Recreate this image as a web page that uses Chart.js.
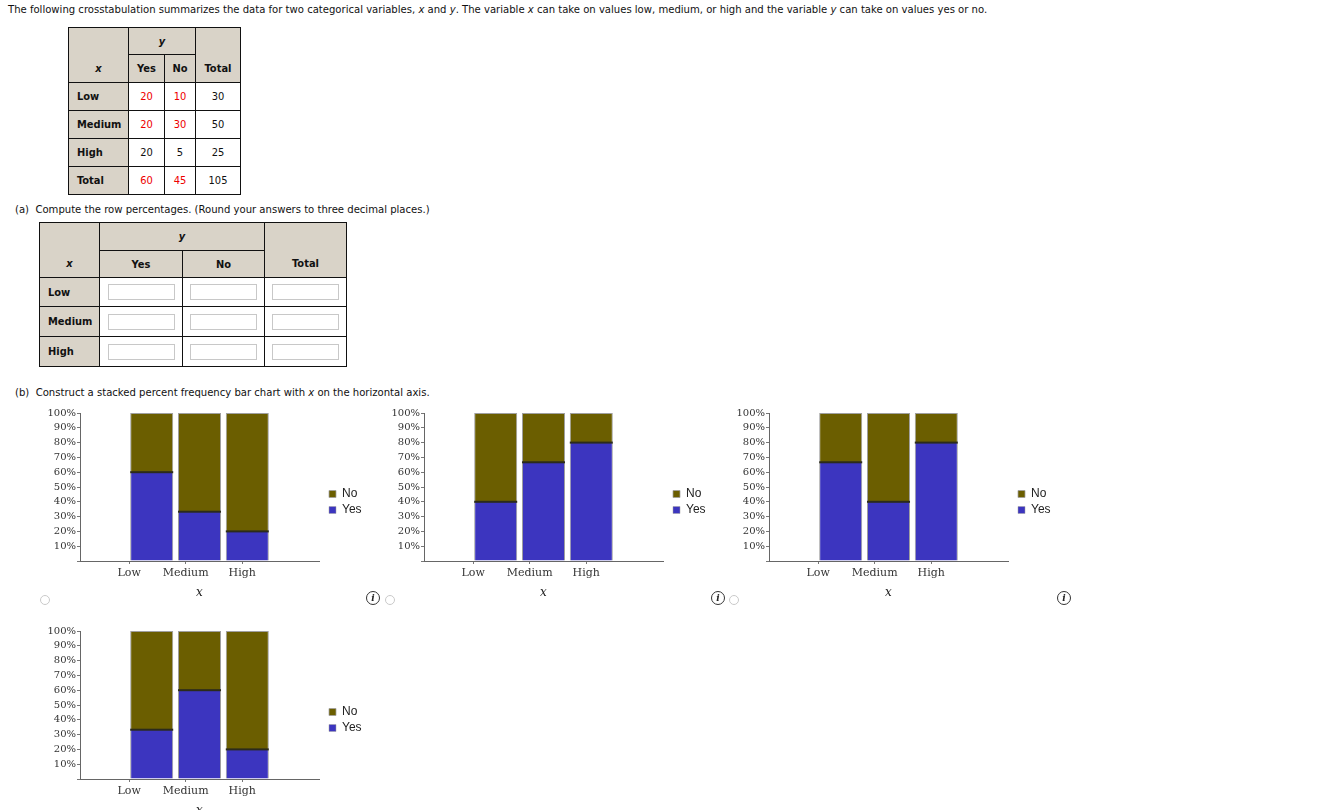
<!DOCTYPE html>
<html>
<head>
<meta charset="utf-8">
<script src="https://cdn.jsdelivr.net/npm/chart.js@4.4.1/dist/chart.umd.min.js"></script>
<style>
  body {
    margin: 0;
    width: 1337px;
    height: 810px;
    overflow: hidden;
    background: #fff;
    font-family: "DejaVu Sans Condensed", "DejaVu Sans", sans-serif;
    font-size: 11px;
    color: #111;
    position: relative;
  }
  .txt { position: absolute; white-space: nowrap; font-size: 11.2px; }
  table.ct {
    position: absolute;
    border-collapse: collapse;
    table-layout: fixed;
    font-size: 11px;
  }
  table.ct td {
    border: 1px solid #111;
    text-align: center;
    padding: 0;
  }
  table.ct td.hd { background: #d9d3c8; font-weight: bold; }
  table.ct td.rl { background: #d9d3c8; font-weight: bold; text-align: left; padding-left: 8px; }
  table.ct td.bt { vertical-align: bottom; padding-bottom: 7px; }
  .red { color: #ee0000; }
  .box {
    display: block;
    margin: 0 auto;
    width: 65px;
    height: 14px;
    border: 1px solid #c8c8c8;
    background: #fff;
  }
  .chartBox { position: absolute; width: 345px; height: 205px; }
  .radio {
    position: absolute;
    width: 8px; height: 8px;
    border: 1px solid #c9c9c9;
    border-radius: 50%;
  }
  .info {
    position: absolute;
    width: 12px; height: 12px;
    border: 1px solid #333;
    border-radius: 50%;
    font: italic bold 9px "DejaVu Serif", serif;
    text-align: center;
    line-height: 12px;
    color: #222;
  }
</style>
</head>
<body>

<div class="txt" style="left:8px; top:3px;">The following crosstabulation summarizes the data for two categorical variables, <i>x</i> and <i>y</i>. The variable <i>x</i> can take on values low, medium, or high and the variable <i>y</i> can take on values yes or no.</div>

<table class="ct" style="left:68px; top:27px; width:173px;">
  <colgroup><col style="width:60px"><col style="width:36px"><col style="width:31px"><col style="width:45px"></colgroup>
  <tr style="height:27px"><td class="hd bt" rowspan="2"><i>x</i></td><td class="hd" colspan="2"><i>y</i></td><td class="hd bt" rowspan="2">Total</td></tr>
  <tr style="height:28px"><td class="hd">Yes</td><td class="hd">No</td></tr>
  <tr style="height:28px"><td class="rl">Low</td><td class="red">20</td><td class="red">10</td><td>30</td></tr>
  <tr style="height:28px"><td class="rl">Medium</td><td class="red">20</td><td class="red">30</td><td>50</td></tr>
  <tr style="height:28px"><td class="rl">High</td><td>20</td><td>5</td><td>25</td></tr>
  <tr style="height:28px"><td class="rl">Total</td><td class="red">60</td><td class="red">45</td><td>105</td></tr>
</table>

<div class="txt" style="left:15px; top:203px;">(a)&nbsp; Compute the row percentages. (Round your answers to three decimal places.)</div>

<table class="ct" style="left:39px; top:222px; width:308px;">
  <colgroup><col style="width:60px"><col style="width:83px"><col style="width:82px"><col style="width:82px"></colgroup>
  <tr style="height:28px"><td class="hd bt" rowspan="2"><i>x</i></td><td class="hd" colspan="2"><i>y</i></td><td class="hd bt" rowspan="2">Total</td></tr>
  <tr style="height:27px"><td class="hd">Yes</td><td class="hd">No</td></tr>
  <tr style="height:29px"><td class="rl">Low</td><td><span class="box"></span></td><td><span class="box"></span></td><td><span class="box"></span></td></tr>
  <tr style="height:30px"><td class="rl">Medium</td><td><span class="box"></span></td><td><span class="box"></span></td><td><span class="box"></span></td></tr>
  <tr style="height:30px"><td class="rl">High</td><td><span class="box"></span></td><td><span class="box"></span></td><td><span class="box"></span></td></tr>
</table>

<div class="txt" style="left:15px; top:386px;">(b)&nbsp; Construct a stacked percent frequency bar chart with <i>x</i> on the horizontal axis.</div>

<div class="chartBox" style="left:40px; top:400px;"><canvas id="chart1"></canvas></div>
<div class="chartBox" style="left:384px; top:400px;"><canvas id="chart2"></canvas></div>
<div class="chartBox" style="left:729px; top:400px;"><canvas id="chart3"></canvas></div>
<div class="chartBox" style="left:40px; top:618px;"><canvas id="chart4"></canvas></div>

<div class="radio" style="left:40px; top:595px;"></div>
<div class="info" style="left:366px; top:591px;">i</div>
<div class="radio" style="left:385px; top:595px;"></div>
<div class="info" style="left:711px; top:591px;">i</div>
<div class="radio" style="left:729px; top:595px;"></div>
<div class="info" style="left:1057px; top:591px;">i</div>

<script>
// categories on the x axis
const categories = ["Low", "Medium", "High"];

// percent of Yes / No per category, one pair per answer option
const yes1 = [60, 33.3, 20];
const no1 = [40, 66.7, 80];
const yes2 = [40, 66.7, 80];
const no2 = [60, 33.3, 20];
const yes3 = [66.7, 40, 80];
const no3 = [33.3, 60, 20];
const yes4 = [33.3, 60, 20];
const no4 = [66.7, 40, 80];

const yesColor = "#3c35bf";
const noColor = "#6b5e00";

// the bars sit in the middle 3 of 5 slots, the labels are spaced a bit wider
const slotLabels = ["", ...categories, ""];
const labelAxisMin = 0.13;
const labelAxisMax = 4.36;

function pad(arr) {
  return [null, ...arr, null];
}

// dark seam where the Yes segment meets the No segment
const seamPlugin = {
  id: "seam",
  afterDatasetsDraw: (chart) => {
    const ctx = chart.ctx;
    const values = chart.data.datasets[0].data;
    const meta = chart.getDatasetMeta(0);
    ctx.save();
    ctx.fillStyle = "#2b2b1c";
    meta.data.forEach((bar, i) => {
      if (values[i] == null) return;
      const half = bar.width / 2;
      ctx.fillRect(bar.x - half, bar.y - 1, bar.width, 2);
    });
    ctx.restore();
  },
};

function makeChart(id, yes, no) {
  let config = {
    type: "bar",
    data: {
      labels: slotLabels,
      datasets: [
        {
          label: "Yes",
          data: pad(yes),
          backgroundColor: yesColor,
          borderColor: "#a0a0a0",
          borderWidth: { top: 0, left: 1, right: 1, bottom: 0 },
          borderSkipped: false,
        },
        {
          label: "No",
          data: pad(no),
          backgroundColor: noColor,
          borderColor: "#a0a0a0",
          borderWidth: { top: 1, left: 1, right: 1, bottom: 0 },
          borderSkipped: false,
        },
      ],
    },
    options: {
      animation: false,
      responsive: true,
      maintainAspectRatio: false,
      categoryPercentage: 1,
      barPercentage: 0.9,
      layout: {
        padding: { top: 13, bottom: 14, left: 0, right: 15 },
      },
      scales: {
        x: {
          display: false,
          stacked: true,
        },
        xl: {
          type: "linear",
          position: "bottom",
          offset: false,
          bounds: "data",
          min: labelAxisMin,
          max: labelAxisMax,
          afterBuildTicks: (axis) => {
            axis.ticks = categories.map((c, i) => ({ value: i + 1 }));
          },
          afterFit: (axis) => {
            axis.height = 30;
          },
          ticks: {
            autoSkip: false,
            maxRotation: 0,
            padding: 3,
            color: "#333",
            font: { family: "DejaVu Serif", size: 11 },
            callback: (v) => categories[v - 1] || "",
          },
          grid: {
            offset: false,
            drawOnChartArea: false,
            tickLength: 3,
            color: "#777",
          },
          border: { color: "#666", width: 1 },
          title: {
            display: true,
            text: "x",
            color: "#222",
            font: { family: "DejaVu Serif", size: 12, style: "italic" },
            padding: { top: 0, bottom: -9 },
          },
        },
        y: {
          stacked: true,
          min: 0,
          max: 100,
          afterFit: (axis) => {
            axis.width = 40;
          },
          ticks: {
            stepSize: 10,
            autoSkip: false,
            padding: 1,
            color: "#333",
            font: { family: "DejaVu Serif", size: 10 },
            callback: (v) => (v === 0 ? "" : v + "%"),
          },
          grid: {
            drawOnChartArea: false,
            tickLength: 3,
            color: "#777",
          },
          border: { color: "#666", width: 1 },
        },
        gap: {
          type: "linear",
          position: "right",
          display: true,
          afterFit: (axis) => {
            axis.width = 6;
          },
          ticks: { display: false },
          grid: { display: false },
          border: { display: false },
        },
      },
      plugins: {
        tooltip: { enabled: false },
        legend: {
          display: true,
          position: "right",
          align: "center",
          reverse: true,
          maxWidth: 45,
          labels: {
            boxWidth: 7,
            boxHeight: 7,
            padding: 4,
            color: "#222",
            font: { family: "Liberation Sans", size: 12 },
          },
        },
      },
    },
    plugins: [seamPlugin],
  };
  return new Chart(document.getElementById(id), config);
}

let chartA = makeChart("chart1", yes1, no1);
let chartB = makeChart("chart2", yes2, no2);
let chartC = makeChart("chart3", yes3, no3);
let chartD = makeChart("chart4", yes4, no4);
</script>
</body>
</html>
